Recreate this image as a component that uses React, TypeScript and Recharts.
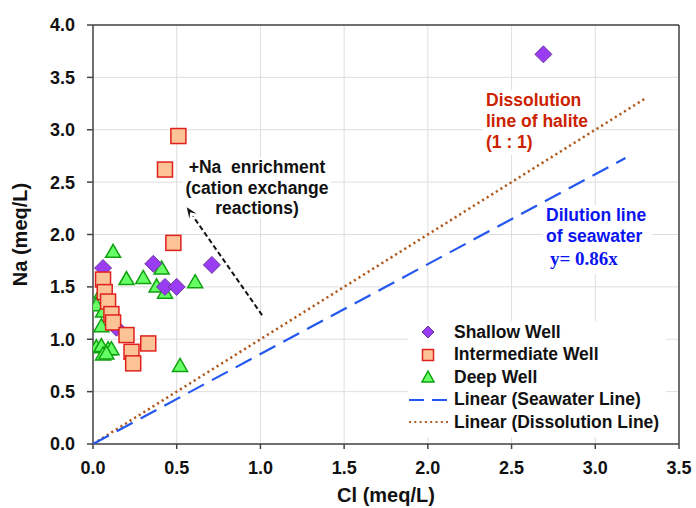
import React from 'react';
import {
  ScatterChart,
  Scatter,
  XAxis,
  YAxis,
  CartesianGrid,
  ReferenceLine,
} from 'recharts';

// Cl (meq/L) vs Na (meq/L) for each well group
const shallowWell = [
  { cl: 2.69, na: 3.72 },
  { cl: 0.06, na: 1.68 },
  { cl: 0.36, na: 1.72 },
  { cl: 0.71, na: 1.71 },
  { cl: 0.43, na: 1.50 },
  { cl: 0.50, na: 1.50 },
  { cl: 0.14, na: 1.11 },
];

const intermediateWell = [
  { cl: 0.51, na: 2.94 },
  { cl: 0.43, na: 2.62 },
  { cl: 0.48, na: 1.92 },
  { cl: 0.06, na: 1.57 },
  { cl: 0.07, na: 1.45 },
  { cl: 0.09, na: 1.36 },
  { cl: 0.11, na: 1.24 },
  { cl: 0.12, na: 1.16 },
  { cl: 0.20, na: 1.04 },
  { cl: 0.33, na: 0.96 },
  { cl: 0.23, na: 0.88 },
  { cl: 0.24, na: 0.77 },
];

const deepWell = [
  { cl: 0.12, na: 1.83 },
  { cl: 0.41, na: 1.67 },
  { cl: 0.20, na: 1.57 },
  { cl: 0.30, na: 1.58 },
  { cl: 0.38, na: 1.50 },
  { cl: 0.43, na: 1.44 },
  { cl: 0.61, na: 1.54 },
  { cl: 0.52, na: 0.74 },
  { cl: 0.05, na: 1.44 },
  { cl: 0.02, na: 1.32 },
  { cl: 0.06, na: 1.26 },
  { cl: 0.12, na: 1.16 },
  { cl: 0.05, na: 1.12 },
  { cl: 0.02, na: 0.92 },
  { cl: 0.05, na: 0.93 },
  { cl: 0.09, na: 0.90 },
  { cl: 0.11, na: 0.90 },
  { cl: 0.06, na: 0.85 },
  { cl: 0.08, na: 0.86 },
];

// Trend lines
const seawaterLine = [
  { cl: 0, na: 0 },
  { cl: 3.18, na: 2.73 },
];
const dissolutionLine = [
  { cl: 0, na: 0 },
  { cl: 3.3, na: 3.3 },
];

// Na-enrichment arrow (tail, head)
const enrichmentArrow = [
  { cl: 1.01, na: 1.23 },
  { cl: 0.56, na: 2.26 },
];

const xTicks = [0, 0.5, 1.0, 1.5, 2.0, 2.5, 3.0, 3.5];
const yTicks = [0, 0.5, 1.0, 1.5, 2.0, 2.5, 3.0, 3.5, 4.0];
const xDomain: [number, number] = [0, 3.5];
const yDomain: [number, number] = [0, 4];

const legendItems = [
  { name: 'Shallow Well', kind: 'diamond' },
  { name: 'Intermediate Well', kind: 'square' },
  { name: 'Deep Well', kind: 'triangle' },
  { name: 'Linear (Seawater Line)', kind: 'dash' },
  { name: 'Linear (Dissolution Line)', kind: 'dot' },
];

const W = 696;
const H = 508;
const M = { top: 25, right: 17, left: 93, bottom: 64 };

const FONT = '"Liberation Sans", Arial, sans-serif';
const C = {
  diamondFill: '#9A3CF2',
  diamondStroke: '#6A3A9E',
  squareFill: '#FBC396',
  squareStroke: '#E0201C',
  triFill: '#66FF66',
  triStroke: '#10A010',
  seawater: '#2457F0',
  dissolution: '#B0581E',
  axis: '#444',
};

const Diamond = (p: any) => {
  const { cx, cy } = p;
  const r = 8.5;
  return (
    <polygon
      points={`${cx},${cy - r} ${cx + r},${cy} ${cx},${cy + r} ${cx - r},${cy}`}
      fill={C.diamondFill}
      stroke={C.diamondStroke}
      strokeWidth={1}
    />
  );
};

const Square = (p: any) => {
  const { cx, cy } = p;
  const s = 7.5;
  return (
    <rect
      x={cx - s}
      y={cy - s}
      width={2 * s}
      height={2 * s}
      fill={C.squareFill}
      stroke={C.squareStroke}
      strokeWidth={1.5}
    />
  );
};

const Triangle = (p: any) => {
  const { cx, cy } = p;
  return (
    <polygon
      points={`${cx},${cy - 8} ${cx + 7.5},${cy + 5} ${cx - 7.5},${cy + 5}`}
      fill={C.triFill}
      stroke={C.triStroke}
      strokeWidth={1.5}
    />
  );
};

const NoShape = () => <g />;

const ArrowShape = (p: any) => {
  const { x1, y1, x2, y2 } = p;
  if ([x1, y1, x2, y2].some((v) => typeof v !== 'number')) return <g />;
  const ang = Math.atan2(y2 - y1, x2 - x1);
  const len = 11;
  const w = 4.5;
  const bx = x2 - len * Math.cos(ang);
  const by = y2 - len * Math.sin(ang);
  const px = -Math.sin(ang) * w;
  const py = Math.cos(ang) * w;
  const nx = x2 - 6 * Math.cos(ang);
  const ny = y2 - 6 * Math.sin(ang);
  return (
    <g>
      <line x1={x1} y1={y1} x2={bx} y2={by} stroke="#111" strokeWidth={2} strokeDasharray="5 3" />
      <polygon
        points={`${x2},${y2} ${bx + px},${by + py} ${nx},${ny} ${bx - px},${by - py}`}
        fill="#111"
      />
    </g>
  );
};

const LegendIcon = ({ kind }: { kind: string }) => {
  const w = 42;
  const h = 18;
  const cx = 20;
  const cy = h / 2;
  let el: React.ReactNode = null;
  if (kind === 'diamond')
    el = (
      <polygon
        points={`${cx},${cy - 6} ${cx + 6},${cy} ${cx},${cy + 6} ${cx - 6},${cy}`}
        fill={C.diamondFill}
        stroke={C.diamondStroke}
      />
    );
  if (kind === 'square')
    el = <rect x={cx - 5.5} y={cy - 5.5} width={11} height={11} fill={C.squareFill} stroke={C.squareStroke} strokeWidth={1.5} />;
  if (kind === 'triangle')
    el = (
      <polygon
        points={`${cx},${cy - 6} ${cx + 6},${cy + 5} ${cx - 6},${cy + 5}`}
        fill={C.triFill}
        stroke={C.triStroke}
        strokeWidth={1.5}
      />
    );
  if (kind === 'dash')
    el = <line x1={1} y1={cy} x2={40} y2={cy} stroke={C.seawater} strokeWidth={2} strokeDasharray="15 8" />;
  if (kind === 'dot')
    el = <line x1={1} y1={cy} x2={40} y2={cy} stroke={C.dissolution} strokeWidth={2} strokeDasharray="2 3.3" />;
  return (
    <svg width={w} height={h} style={{ display: 'block', flex: 'none' }}>
      {el}
    </svg>
  );
};

const textBox: React.CSSProperties = {
  position: 'absolute',
  background: '#fff',
  fontFamily: FONT,
  fontWeight: 'bold',
  fontSize: 17.5,
  lineHeight: '21px',
  whiteSpace: 'nowrap',
};

const tickStyle = { fill: '#111', fontFamily: FONT, fontWeight: 'bold', fontSize: 18 };

const layer: React.CSSProperties = { position: 'absolute', left: 0, top: 0 };

export default function App() {
  return (
    <div style={{ position: 'absolute', left: 0, top: 0, width: W, height: H, background: '#fff' }}>
      {/* Frame: grid, axes and plot border */}
      <div style={layer}>
        <ScatterChart width={W} height={H} margin={{ top: M.top, right: M.right, bottom: 0, left: 0 }}>
          <CartesianGrid stroke="#DEDEDE" strokeWidth={1} />
          <XAxis
            type="number"
            dataKey="cl"
            domain={xDomain}
            ticks={xTicks}
            tickFormatter={(v: number) => v.toFixed(1)}
            height={M.bottom}
            stroke={C.axis}
            strokeWidth={1.5}
            tickSize={5}
            tickMargin={12}
            tick={tickStyle}
            allowDataOverflow
            label={{
              value: 'Cl (meq/L)',
              position: 'insideBottom',
              offset: 6,
              fill: '#111',
              fontFamily: FONT,
              fontWeight: 'bold',
              fontSize: 20,
            }}
          />
          <YAxis
            type="number"
            dataKey="na"
            domain={yDomain}
            ticks={yTicks}
            tickFormatter={(v: number) => v.toFixed(1)}
            width={M.left}
            stroke={C.axis}
            strokeWidth={1.5}
            tickSize={6}
            tickMargin={12}
            tick={tickStyle}
            allowDataOverflow
            label={{
              value: 'Na (meq/L)',
              angle: -90,
              position: 'insideLeft',
              offset: 20,
              style: { textAnchor: 'middle' },
              fill: '#111',
              fontFamily: FONT,
              fontWeight: 'bold',
              fontSize: 20,
            }}
          />
          <ReferenceLine x={3.5} stroke={C.axis} strokeWidth={1.5} />
          <ReferenceLine y={4} stroke={C.axis} strokeWidth={1.5} />
        </ScatterChart>
      </div>

      {/* Annotation text boxes */}
      <div style={{ ...textBox, left: 183, top: 157, width: 148, lineHeight: '20.5px', textAlign: 'center', color: '#111' }}>
        +Na&nbsp; enrichment
        <br />
        (cation exchange
        <br />
        reactions)
      </div>
      <div style={{ ...textBox, left: 483, top: 90, padding: '0 4px 2px 3px', color: '#CC2200' }}>
        Dissolution
        <br />
        line of halite
        <br />
        (1 : 1)
      </div>
      <div style={{ ...textBox, left: 543, top: 205, padding: '0 6px 3px 3px', color: '#0A14F0' }}>
        Dilution line
        <br />
        of seawater
        <br />
        <span
          style={{
            fontFamily: '"Liberation Serif", "Times New Roman", serif',
            marginLeft: 4,
            fontSize: 19,
            lineHeight: '24px',
          }}
        >
          y= 0.86x
        </span>
      </div>

      {/* Series: trend lines, arrow and sample points */}
      <div style={layer}>
        <ScatterChart width={W} height={H} margin={M}>
          <XAxis type="number" dataKey="cl" domain={xDomain} ticks={xTicks} allowDataOverflow hide />
          <YAxis type="number" dataKey="na" domain={yDomain} ticks={yTicks} allowDataOverflow hide />
          <Scatter
            name="Linear (Dissolution Line)"
            data={dissolutionLine}
            line={{ stroke: C.dissolution, strokeWidth: 2.5, strokeDasharray: '2.2 3.2' }}
            shape={NoShape}
            isAnimationActive={false}
          />
          <Scatter
            name="Linear (Seawater Line)"
            data={seawaterLine}
            line={{ stroke: C.seawater, strokeWidth: 2.2, strokeDasharray: '18 9' }}
            shape={NoShape}
            isAnimationActive={false}
          />
          <ReferenceLine
            segment={[
              { x: enrichmentArrow[0].cl, y: enrichmentArrow[0].na },
              { x: enrichmentArrow[1].cl, y: enrichmentArrow[1].na },
            ]}
            shape={ArrowShape}
            ifOverflow="visible"
          />
          <Scatter name="Deep Well" data={deepWell} shape={Triangle} isAnimationActive={false} />
          <Scatter name="Shallow Well" data={shallowWell} shape={Diamond} isAnimationActive={false} />
          <Scatter name="Intermediate Well" data={intermediateWell} shape={Square} isAnimationActive={false} />
        </ScatterChart>
      </div>

      {/* Legend */}
      <div
        style={{
          position: 'absolute',
          left: 408,
          top: 321,
          width: 258,
          paddingBottom: 3,
          background: '#fff',
          fontFamily: FONT,
          fontWeight: 'bold',
          fontSize: 17.5,
          color: '#111',
        }}
      >
        {legendItems.map((it) => (
          <div key={it.name} style={{ display: 'flex', alignItems: 'center', height: 22.5, whiteSpace: 'nowrap' }}>
            <LegendIcon kind={it.kind} />
            <span style={{ marginLeft: 4 }}>{it.name}</span>
          </div>
        ))}
      </div>
    </div>
  );
}
